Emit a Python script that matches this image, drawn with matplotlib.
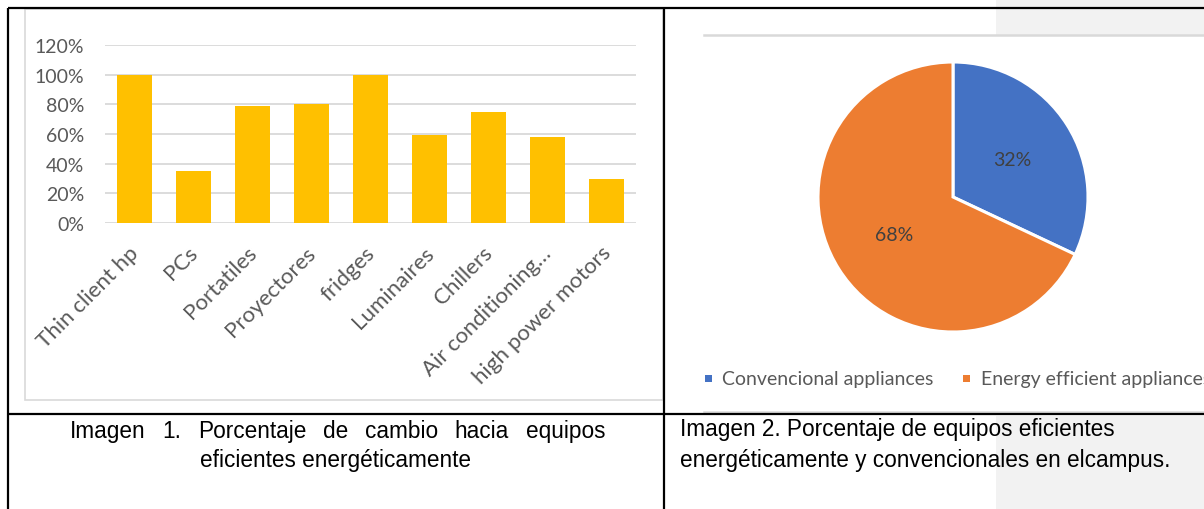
import matplotlib
matplotlib.use("Agg")
import matplotlib.pyplot as plt
from matplotlib.lines import Line2D
from matplotlib.patches import Rectangle
from matplotlib.transforms import ScaledTranslation

# ---------------- data ----------------
categories = ["Thin client hp", "PCs", "Portatiles", "Proyectores", "fridges",
              "Luminaires", "Chillers", "Air conditioning\u2026", "high power motors"]
change_pct = [1.00, 0.35, 0.79, 0.80, 1.00, 0.59, 0.75, 0.58, 0.30]
y_ticks = [0, 0.2, 0.4, 0.6, 0.8, 1.0, 1.2]
y_tick_labels = ["0%", "20%", "40%", "60%", "80%", "100%", "120%"]

pie_labels = ["Convencional appliances", "Energy efficient appliances"]
pie_values = [32, 68]

caption1_line1 = "Imagen 1. Porcentaje de cambio hacia equipos"
caption1_line2 = "eficientes energéticamente"
caption2_line1 = "Imagen 2. Porcentaje de equipos eficientes"
caption2_line2 = "energéticamente y convencionales en elcampus."

# ---------------- layout helpers ----------------
W, H = 1204, 510
fig = plt.figure(figsize=(W / 100, H / 100), dpi=100)
fig.patch.set_facecolor("white")

def fx(x):
    return x / W

def fy(y):
    return 1 - y / H

def add_axes_px(x0, y0, x1, y1, **kw):
    return fig.add_axes([fx(x0), fy(y1), (x1 - x0) / W, (y1 - y0) / H], **kw)

CHART_FONT = ["Lato", "DejaVu Sans"]
CAP_FONT = ["Liberation Sans", "DejaVu Sans"]
GRAY_TXT = "#595959"

# gray background regions on the right
fig.add_artist(Rectangle((fx(996), fy(36)), (W - 996) / W, 36 / H,
                         transform=fig.transFigure, facecolor="#f2f2f2",
                         edgecolor="none", zorder=0))
fig.add_artist(Rectangle((fx(996), fy(H)), (W - 996) / W, (H - 417) / H,
                         transform=fig.transFigure, facecolor="#f2f2f2",
                         edgecolor="none", zorder=0))

# bar chart frame
fig.add_artist(Rectangle((fx(25), fy(401)), (663 - 25) / W, (401 - 10) / H,
                         transform=fig.transFigure, facecolor="none",
                         edgecolor="#d9d9d9", linewidth=1.2, zorder=1))

# pie chart gray lines
for yy in (36, 413):
    fig.add_artist(Line2D([fx(704), 1], [fy(yy), fy(yy)], transform=fig.transFigure,
                          color="#d9d9d9", linewidth=1.8, zorder=1))

# ---------------- bar chart ----------------
ax = add_axes_px(105, 46, 636, 224)
x = list(range(len(categories)))
ax.bar(x, change_pct, width=0.58, color="#FFC000", zorder=3)
ax.set_xlim(-0.5, len(categories) - 0.5)
ax.set_ylim(0, 1.2)
ax.set_yticks(y_ticks)
ax.set_yticklabels(y_tick_labels, fontsize=14, color=GRAY_TXT, family=CHART_FONT)
ax.yaxis.grid(True, color="#d9d9d9", linewidth=1.3, zorder=0)
ax.set_axisbelow(True)
for s in ax.spines.values():
    s.set_visible(False)
ax.tick_params(axis="both", length=0)
ax.tick_params(axis="y", pad=15)
ax.set_xticks(x)
ax.set_xticklabels(categories, rotation=45, ha="right", va="center",
                   rotation_mode="anchor", fontsize=16, color=GRAY_TXT,
                   family=CHART_FONT)
ax.tick_params(axis="x", pad=19)
off = ScaledTranslation(1 / 100, 0, fig.dpi_scale_trans)
for lab in ax.get_xticklabels():
    lab.set_transform(lab.get_transform() + off)
ax.set_facecolor("none")

# ---------------- pie chart ----------------
cx, cy, r = 953, 198, 135
pax = add_axes_px(cx - r, cy - r, cx + r, cy + r)
wedges, texts, autotexts = pax.pie(
    pie_values, colors=["#4472C4", "#ED7D31"], startangle=90, counterclock=False,
    autopct=lambda p: f"{p:.0f}%", pctdistance=0.52, radius=1.0,
    wedgeprops=dict(edgecolor="white", linewidth=2.2),
    textprops=dict(fontsize=14, color="#404040", family=CHART_FONT))
pax.set_xlim(-1.0, 1.0)
pax.set_ylim(-1.0, 1.0)
pax.set_aspect("equal")
pax.axis("off")

# legend (manual)
leg_y = 379
for (mx, tx), lab, col in zip([(708, 722), (966, 981)], pie_labels,
                              ["#4472C4", "#ED7D31"]):
    fig.add_artist(Rectangle((fx(mx - 3.5), fy(leg_y + 3.5)), 7 / W, 7 / H,
                             transform=fig.transFigure, facecolor=col,
                             edgecolor="none"))
    fig.text(fx(tx), fy(leg_y), lab, fontsize=14, color=GRAY_TXT,
             family=CHART_FONT, ha="left", va="center")

# ---------------- table borders ----------------
lw = 1.6
lines = [([8, W], [9, 9]), ([8, 8], [9, H]), ([664, 664], [9, H]), ([8, W], [415, 415])]
for xs, ys in lines:
    fig.add_artist(Line2D([fx(v) for v in xs], [fy(v) for v in ys],
                          transform=fig.transFigure, color="black", linewidth=lw,
                          zorder=5, solid_capstyle="butt"))

# ---------------- captions ----------------
CAP_SIZE = 16.3
renderer = fig.canvas.get_renderer()

def justified(text, x0, x1, y):
    words = text.split()
    arts = [fig.text(0, fy(y), w, fontsize=CAP_SIZE, family=CAP_FONT,
                     ha="left", va="center", color="black") for w in words]
    widths = [a.get_window_extent(renderer).width for a in arts]
    gap = ((x1 - x0) - sum(widths)) / (len(words) - 1)
    pos = x0
    for a, w in zip(arts, widths):
        a.set_x(fx(pos))
        pos += w + gap

justified(caption1_line1, 70, 605, 432)
fig.text(fx(336), fy(461), caption1_line2, fontsize=CAP_SIZE, family=CAP_FONT,
         ha="center", va="center", color="black")
fig.text(fx(680), fy(430), caption2_line1, fontsize=CAP_SIZE, family=CAP_FONT,
         ha="left", va="center", color="black")
fig.text(fx(680), fy(461), caption2_line2, fontsize=CAP_SIZE, family=CAP_FONT,
         ha="left", va="center", color="black")

fig.savefig("out.png", dpi=100)
